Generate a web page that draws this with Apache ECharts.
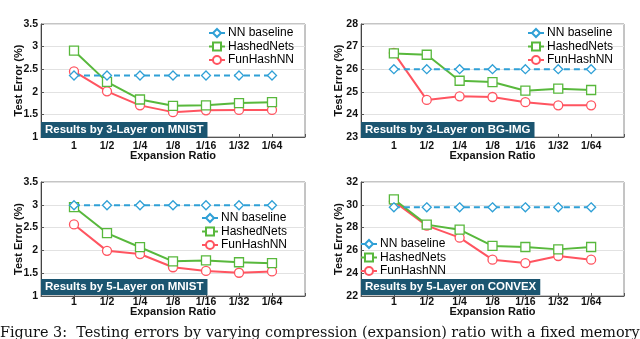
<!DOCTYPE html>
<html><head><meta charset="utf-8">
<script src="https://cdn.jsdelivr.net/npm/echarts@6/dist/echarts.min.js"></script>
<style>html,body{margin:0;padding:0;background:#fff;}#c{width:640px;height:339px;}</style>
</head><body><div id="c"></div>
<script>
const categories = ['1','1/2','1/4','1/8','1/16','1/32','1/64'];
const seriesNames = ['NN baseline','HashedNets','FunHashNN'];
const panelTitles = ['Results by 3-Layer on MNIST','Results by 3-Layer on BG-IMG','Results by 5-Layer on MNIST','Results by 5-Layer on CONVEX'];

const nn1 = [2.36,2.36,2.36,2.36,2.36,2.36,2.36];
const hashed1 = [2.91,2.22,1.83,1.69,1.70,1.75,1.77];
const fun1 = [2.45,2.01,1.70,1.55,1.59,1.60,1.60];

const nn2 = [26.0,26.0,26.0,26.0,26.0,26.0,26.0];
const hashed2 = [26.70,26.64,25.49,25.43,25.05,25.14,25.08];
const fun2 = [26.72,24.64,24.80,24.77,24.54,24.40,24.40];

const nn3 = [2.99,2.99,2.99,2.99,2.99,2.99,2.99];
const hashed3 = [2.95,2.38,2.07,1.76,1.78,1.74,1.72];
const fun3 = [2.57,1.99,1.92,1.63,1.55,1.51,1.54];

const nn4 = [29.78,29.78,29.78,29.78,29.78,29.78,29.78];
const hashed4 = [30.48,28.26,27.82,26.39,26.30,26.09,26.30];
const fun4 = [30.30,28.17,27.12,25.19,24.89,25.51,25.19];

const yMin = [1, 23, 1, 22];
const yMax = [3.5, 28, 3.5, 32];
const yInterval = [0.5, 1, 0.5, 2];

const panelData = [[nn1,hashed1,fun1],[nn2,hashed2,fun2],[nn3,hashed3,fun3],[nn4,hashed4,fun4]];

const colors = ['#2fa0d6','#58b83c','#ff5460'];
const symbols = ['diamond','rect','circle'];
const symbolSizes = [9,9,9];

const grids = [
  {left:41, top:24, width:264, height:113},
  {left:361, top:24, width:263, height:113},
  {left:41, top:182, width:264, height:114},
  {left:361, top:182, width:263, height:114}
];
const legendPos = [
  {left:206, top:25},
  {left:525, top:25},
  {left:199, top:210},
  {left:358, top:236}
];
const titlePos = [
  {left:41, top:122},
  {left:361, top:122},
  {left:41, top:279},
  {left:361, top:279}
];
const xLabelMargin = [4, 4, 1, 1];
const xNameGap = [13, 13, 10, 10];

const font = 'Liberation Sans, Arial, Helvetica, sans-serif';
const xData = [''].concat(categories, ['']);

const option = {
  animation:false,
  backgroundColor:'#fff',
  grid: grids.map(g => Object.assign({show:true, borderColor:'#8a8a8a', borderWidth:1, backgroundColor:'transparent'}, g)),
  xAxis: grids.map((g,i) => ({
    type:'category', gridIndex:i, data:xData, boundaryGap:false,
    axisLine:{show:true, lineStyle:{color:'#555', width:1}},
    axisTick:{show:true, inside:true, length:3, lineStyle:{color:'#555'}},
    axisLabel:{interval:0, color:'#111', fontFamily:font, fontWeight:'bold', fontSize:10.5, margin:xLabelMargin[i]},
    splitLine:{show:false},
    name:'Expansion Ratio', nameLocation:'middle', nameGap:xNameGap[i], nameMoveOverlap:false,
    nameTextStyle:{color:'#111', fontFamily:font, fontWeight:'bold', fontSize:11}
  })),
  yAxis: grids.map((g,i) => ({
    type:'value', gridIndex:i, min:yMin[i], max:yMax[i], interval:yInterval[i],
    axisLine:{show:true, lineStyle:{color:'#444', width:1}},
    axisTick:{show:true, inside:true, length:3, lineStyle:{color:'#555'}},
    axisLabel:{color:'#111', fontFamily:font, fontWeight:'bold', fontSize:10.5, margin:3},
    splitLine:{show:true, lineStyle:{color:'#e2e2e2', width:1}},
    name:'Test Error (%)', nameLocation:'middle', nameGap:17, nameMoveOverlap:false,
    nameTextStyle:{color:'#111', fontFamily:font, fontWeight:'bold', fontSize:11}
  })),
  legend: legendPos.map((p,i) => ({
    orient:'vertical', left:p.left, top:p.top, itemGap:1.5, itemWidth:16, itemHeight:10,
    data:seriesNames.map(n => ({name:n})),
    textStyle:{color:'#000', fontFamily:font, fontSize:12, lineHeight:12, padding:[0,0,0,-2]},
    selectedMode:false, padding:[2,2]
  })),
  title: titlePos.map((p,i) => ({
    text:panelTitles[i], left:p.left, top:p.top,
    backgroundColor:'#1b5570', padding:[2,4,2,4],
    textStyle:{color:'#fff', fontFamily:font, fontWeight:'bold', fontSize:11.5, lineHeight:12}
  })),
  graphic:[{
    type:'text', left:0, top:326,
    style:{text:'Figure 3:  Testing errors by varying compression (expansion) ratio with a fixed memory', font:'14.4px "DejaVu Serif", serif', fill:'#111'}
  }],
  series: []
};

panelData.forEach((arr,pi) => {
  arr.forEach((vals,si) => {
    option.series.push({
      type:'line', name:seriesNames[si], xAxisIndex:pi, yAxisIndex:pi,
      data:[null].concat(vals,[null]),
      symbol:symbols[si], symbolSize:symbolSizes[si],
      showSymbol:true,
      lineStyle:{color:colors[si], width:2, type: si===0 ? [6,4] : 'solid'},
      itemStyle:{color:'#fff', borderColor:colors[si], borderWidth:1.3},
      z: 3 - si + 2
    });
  });
});

const chart = echarts.init(document.getElementById('c'), null, {renderer:'canvas'});
chart.setOption(option);
</script>
</body></html>
